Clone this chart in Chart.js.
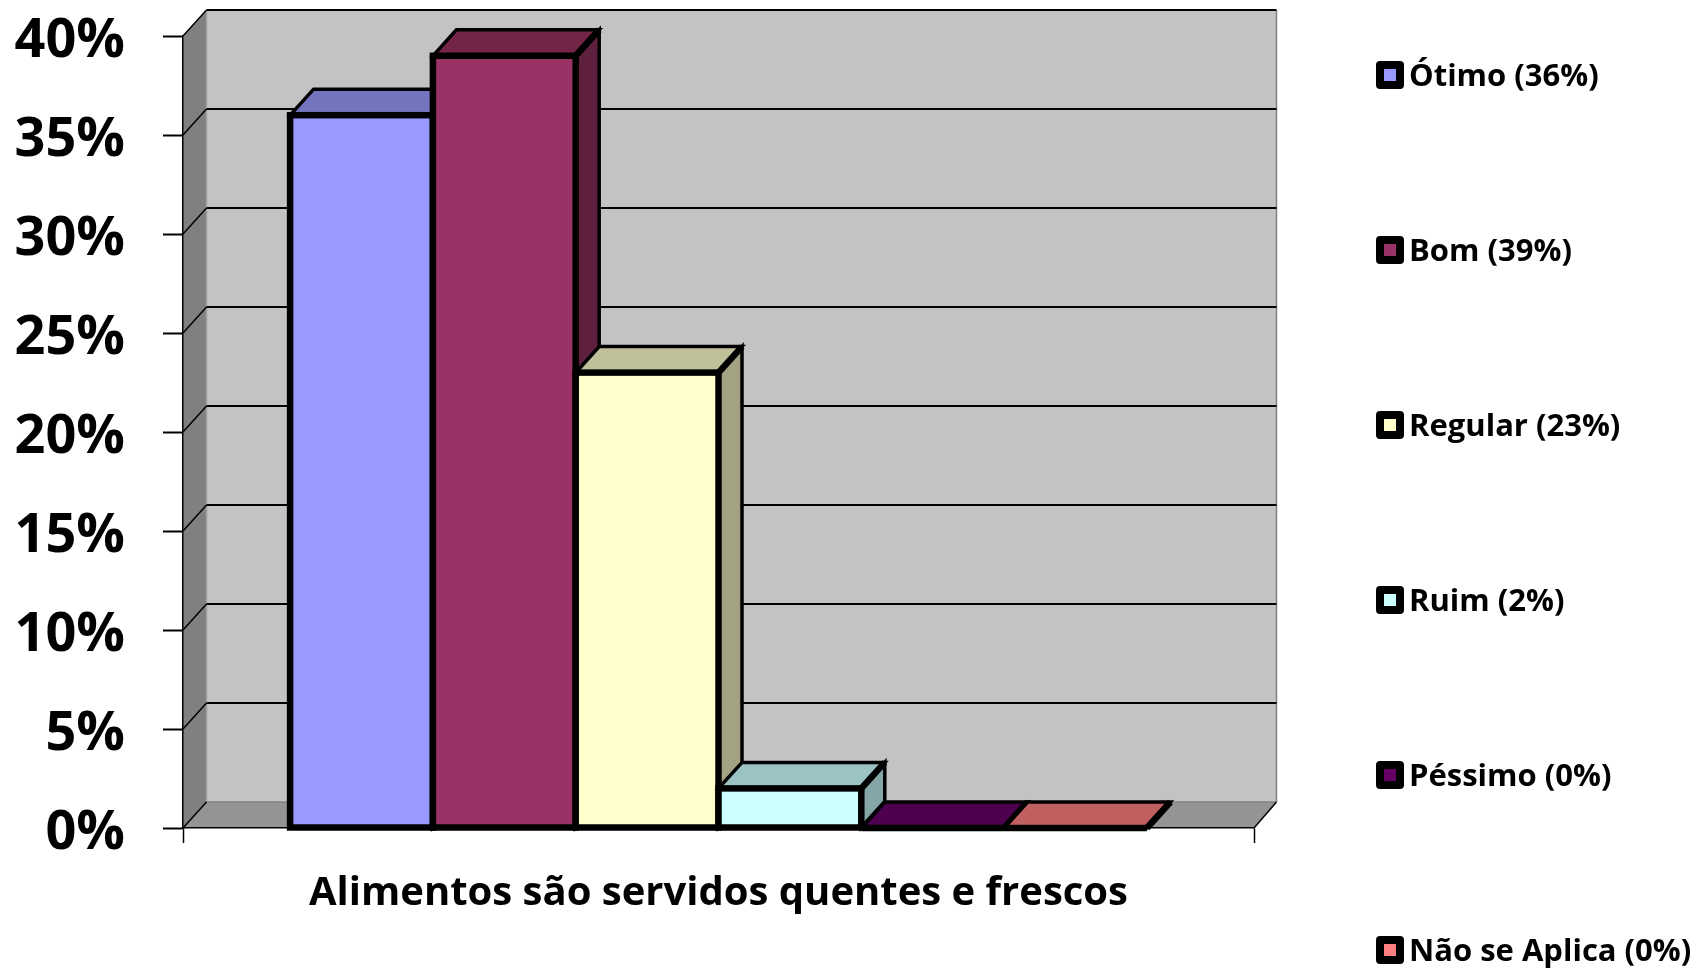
<!DOCTYPE html>
<html>
<head>
<meta charset="utf-8">
<script src="https://cdn.jsdelivr.net/npm/chart.js@4/dist/chart.umd.min.js"></script>
<style>
body{margin:0;background:#fff;overflow:hidden;font-family:"Open Sans",sans-serif}
#wrap{position:relative;width:1696px;height:968px}
#legend{position:absolute;left:1376px;top:-14px}
#legend .item{height:175px;display:flex;align-items:center;font-weight:700;font-size:31px;color:#000;white-space:nowrap}
#legend .box{width:12px;height:12px;border:8px solid #000;border-radius:4px;margin-right:5px;margin-top:2px}
</style>
</head>
<body>
<div id="wrap">
<canvas id="c" width="1696" height="968"></canvas>
<div id="legend"></div>
</div>
<script>
const categories=["Alimentos são servidos quentes e frescos"];
const seriesNames=["Ótimo (36%)","Bom (39%)","Regular (23%)","Ruim (2%)","Péssimo (0%)","Não se Aplica (0%)"];
const seriesValues=[36,39,23,2,0,0];
const seriesColors=["#9999ff","#993366","#ffffcc","#ccffff","#660066","#ff8080"];
const topColors=["#7575bf","#722546","#c0c09a","#9cc3c3","#4d004d","#c06060"];
const sideColors=["#5f5f9e","#5f2040","#a3a383","#84a6a6","#400040","#a05050"];
const yTicks=[0,5,10,15,20,25,30,35,40];

const DX=23.5, DY=26;   // depth of the fake 3d box

function poly(ctx,pts,fill,stroke,lw){
    ctx.beginPath();
    pts.forEach((p,i)=>i?ctx.lineTo(p[0],p[1]):ctx.moveTo(p[0],p[1]));
    ctx.closePath();
    if(fill){ctx.fillStyle=fill;ctx.fill();}
    if(stroke){ctx.strokeStyle=stroke;ctx.lineWidth=lw;ctx.stroke();}
}
function line(ctx,x1,y1,x2,y2,color,lw){
    ctx.beginPath();ctx.moveTo(x1,y1);ctx.lineTo(x2,y2);
    ctx.strokeStyle=color;ctx.lineWidth=lw;ctx.stroke();
}
function noPad(s){s.paddingTop=s.paddingBottom=s.paddingLeft=s.paddingRight=0;}

const box3d={
    id:"box3d",
    // walls and floor go under the axes
    beforeDraw(chart){
        const ctx=chart.ctx, a=chart.chartArea, y=chart.scales.y;
        const backR=a.right+DX-1;
        ctx.save();
        poly(ctx,[[a.left+DX,a.top-DY],[backR,a.top-DY],[backR,a.bottom-DY],[a.left+DX,a.bottom-DY]],"#c3c3c3");
        poly(ctx,[[a.left,a.top],[a.left+DX,a.top-DY],[a.left+DX,a.bottom-DY],[a.left,a.bottom]],"#808080");
        poly(ctx,[[a.left,a.bottom],[a.left+DX,a.bottom-DY],[backR,a.bottom-DY],[a.right,a.bottom]],"#949494");
        line(ctx,a.left+DX,a.top-DY,a.left+DX,a.bottom-DY,"#a0a0a0",1.5);
        line(ctx,a.left+DX,a.bottom-DY,backR,a.bottom-DY,"#808080",1.5);
        line(ctx,backR,a.top-DY,backR,a.bottom-DY,"#808080",1.5);
        line(ctx,a.right,a.bottom,backR,a.bottom-DY,"#000",1.5);
        yTicks.forEach(v=>{
            const py=y.getPixelForValue(v);
            line(ctx,a.left,py,a.left+DX,py-DY,"#000",1.5);
            if(v>0)line(ctx,a.left+DX,py-DY,backR,py-DY,"#000",2);
        });
        ctx.restore();
    },
    // stop the reverse order default, bars have to paint left to right
    beforeDatasetDraw(){return false;},
    afterDatasetsDraw(chart){
        const ctx=chart.ctx;
        ctx.save();
        ctx.lineJoin="miter";
        seriesValues.forEach((v,i)=>{
            const b=chart.getDatasetMeta(i).data[0];
            const l=b.x-b.width/2, r=b.x+b.width/2, t=b.y, base=b.base;
            poly(ctx,[[r,t],[r+DX,t-DY],[r+DX,base-DY],[r,base]],sideColors[i],"#000",3.5);
            poly(ctx,[[l,t],[l+DX,t-DY],[r+DX,t-DY],[r,t]],topColors[i],"#000",3.5);
            line(ctx,r,t,r+DX,t-DY,"#000",6.5);
            b.draw(ctx);
            ctx.strokeStyle="#000";ctx.lineWidth=6.5;
            ctx.strokeRect(l,t,r-l,base-t);
        });
        ctx.restore();
    }
};

new Chart(document.getElementById("c"),{
    type:"bar",
    data:{
        labels:categories,
        datasets:seriesNames.map((n,i)=>({
            label:n,
            data:[seriesValues[i]],
            backgroundColor:seriesColors[i],
            borderWidth:0,
            categoryPercentage:0.8,
            barPercentage:1
        }))
    },
    options:{
        responsive:false,
        animation:false,
        layout:{autoPadding:false,padding:{top:36,right:442,bottom:0,left:0}},
        plugins:{legend:{display:false},tooltip:{enabled:false}},
        scales:{
            x:{
                afterFit(s){s.height=140;noPad(s);},
                grid:{drawOnChartArea:false,tickLength:15,tickColor:"#000",tickWidth:1.5},
                border:{color:"#000",width:1.5},
                ticks:{color:"#000",padding:27,maxRotation:0,font:{family:"Open Sans",weight:"bold",size:40}}
            },
            y:{
                min:0,max:40,
                afterFit(s){s.width=183;noPad(s);},
                grid:{drawOnChartArea:false,tickLength:20,tickColor:"#000",tickWidth:2},
                border:{color:"#000",width:1.5},
                ticks:{stepSize:5,color:"#000",padding:38,labelOffset:6,callback:v=>v+"%",font:{family:"Open Sans",weight:"bold",size:54}}
            }
        }
    },
    plugins:[box3d]
});

// legend is spread over the full height, so built by hand
document.getElementById("legend").innerHTML=seriesNames.map((n,i)=>
    `<div class="item"><span class="box" style="background:${seriesColors[i]}"></span>${n}</div>`).join("");
</script>
</body>
</html>
